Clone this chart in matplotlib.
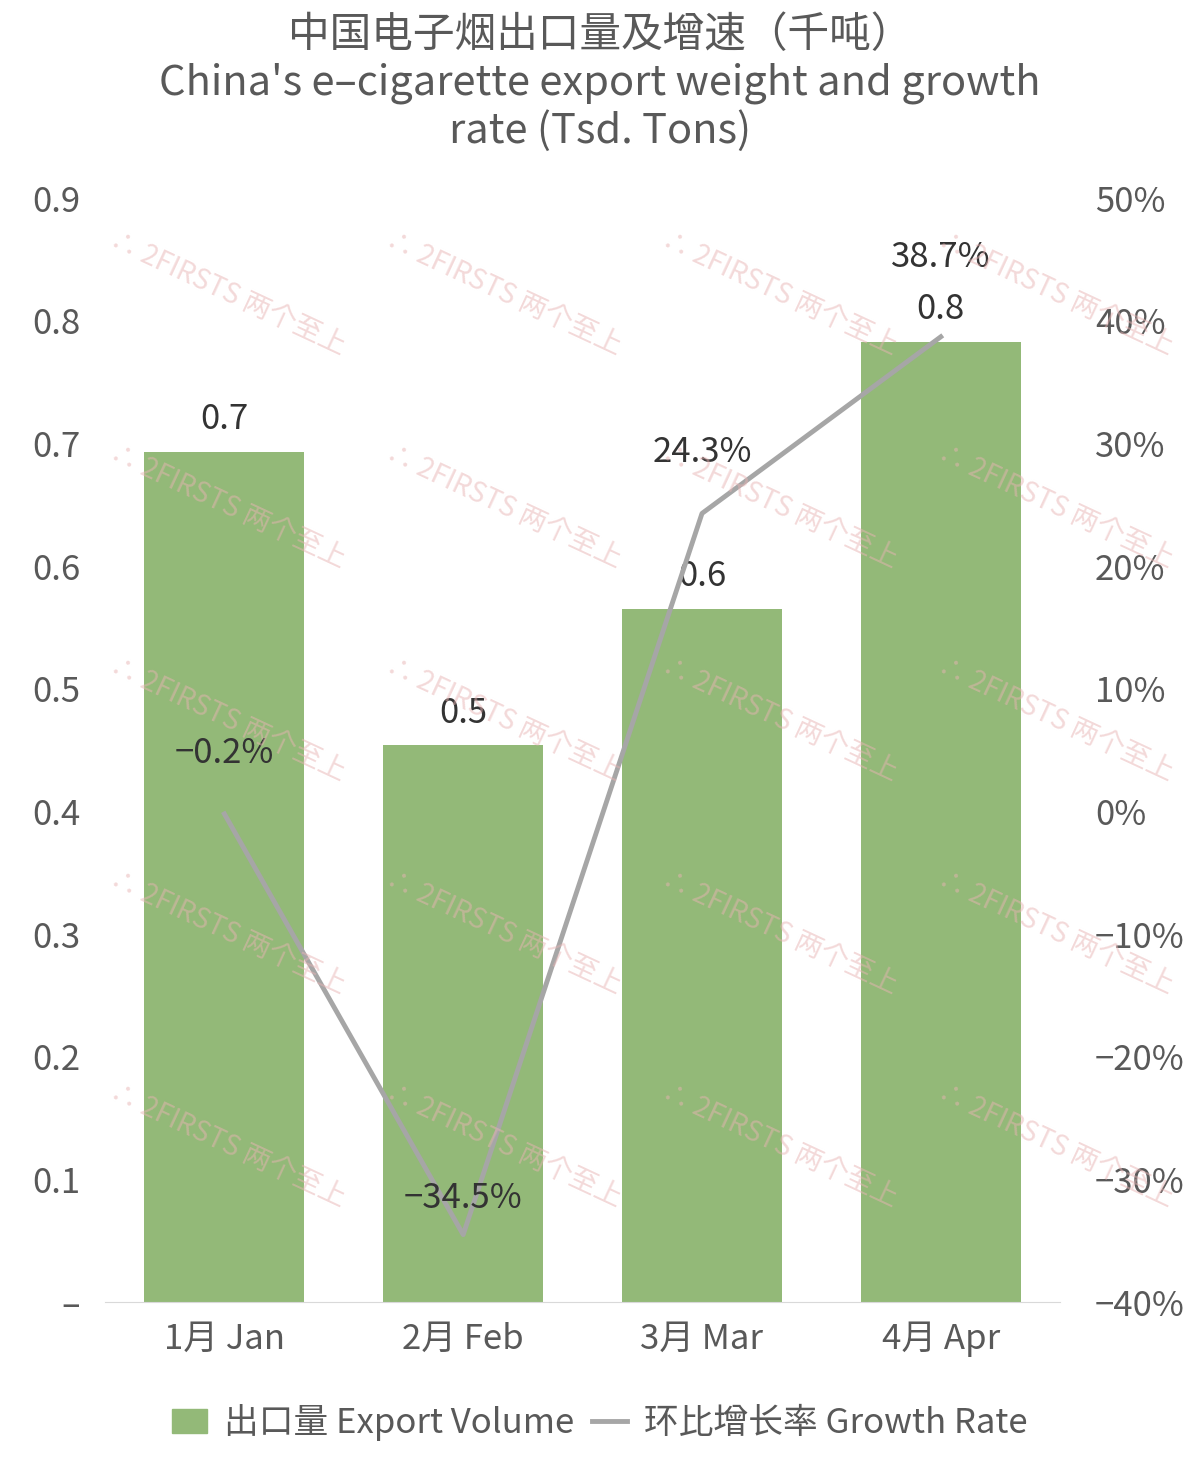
import matplotlib
matplotlib.use("Agg")
import matplotlib.pyplot as plt
from matplotlib import font_manager as fm
from matplotlib.lines import Line2D
from matplotlib.patches import Patch

names = set()
for f in fm.findSystemFonts():
    if "CJK" in f:
        try:
            fm.fontManager.addfont(f)
            names.add(fm.FontProperties(fname=f).get_name())
        except Exception:
            pass
fam = "Noto Sans CJK SC" if "Noto Sans CJK SC" in names else (sorted(names)[0] if names else "DejaVu Sans")
plt.rcParams['font.family'] = [fam, 'DejaVu Sans']
plt.rcParams['font.weight'] = 'normal'

months = ["1月 Jan", "2月 Feb", "3月 Mar", "4月 Apr"]
volume = [0.693, 0.454, 0.565, 0.783]
volume_labels = ["0.7", "0.5", "0.6", "0.8"]
growth = [-0.2, -34.5, 24.3, 38.7]
left_ticks = [0, 0.1, 0.2, 0.3, 0.4, 0.5, 0.6, 0.7, 0.8, 0.9]
right_ticks = [-40, -30, -20, -10, 0, 10, 20, 30, 40, 50]

fig = plt.figure(figsize=(12, 14.68), dpi=100)
ax = fig.add_axes([0.0875, 0.113, 0.796, 0.752])
ax2 = ax.twinx()
x = range(len(months))
gray_t = "#595959"

for wx in [0.19, 0.42, 0.65, 0.88]:
    for wy in [0.8, 0.655, 0.51, 0.365, 0.22]:
        fig.text(wx, wy, "∴ 2FIRSTS 两个至上", color="#e8b4b4", alpha=0.5, fontsize=20,
                 rotation=-25, ha="center", va="center", zorder=0)

ax.bar(x, volume, width=0.67, color="#93b978", zorder=2)
for i, (v, l) in enumerate(zip(volume, volume_labels)):
    ax.text(i, v + 0.012, l, ha="center", va="bottom", fontsize=25, color="#333333")
ax.set_ylim(0, 0.9)
ax.set_xlim(-0.5, 3.5)
ax.set_yticks(left_ticks)
ax.set_yticklabels(["–"] + [f"{t:.1f}" for t in left_ticks[1:]])
ax2.plot(list(x), growth, color="#a6a6a6", lw=3.5, zorder=3)
offs = [3.5, 1.5, 3.5, 5.0]
for i, g in enumerate(growth):
    ax2.text(i, g + offs[i], f"{g:.1f}%".replace("-", "−"), ha="center", va="bottom", fontsize=25, color="#333333")
ax2.set_ylim(-40, 50)
ax2.set_yticks(right_ticks)
ax2.set_yticklabels([f"{t}%".replace("-", "−") for t in right_ticks])

ax.set_xticks(list(x))
ax.set_xticklabels(months)
for a in (ax, ax2):
    for s in a.spines.values():
        s.set_visible(False)
    a.tick_params(length=0, labelsize=25, colors=gray_t, pad=18)
ax2.tick_params(pad=25)
ax.spines['bottom'].set_visible(True)
ax.spines['bottom'].set_color("#d9d9d9")
ax.tick_params(axis='x', pad=14)

fig.text(0.5, 0.99, "中国电子烟出口量及增速（千吨）\nChina's e–cigarette export weight and growth\nrate (Tsd. Tons)",
         ha="center", va="top", fontsize=30, color=gray_t, linespacing=1.2)

handles = [Patch(color="#93b978"), Line2D([0], [0], color="#a6a6a6", lw=3.5)]
fig.legend(handles, ["出口量 Export Volume", "环比增长率 Growth Rate"], loc="center",
           bbox_to_anchor=(0.5, 0.031), ncol=2, frameon=False, fontsize=25,
           handlelength=1.0, handletextpad=0.5, columnspacing=0.5, labelcolor=gray_t)
fig.savefig("out.png", dpi=100)
